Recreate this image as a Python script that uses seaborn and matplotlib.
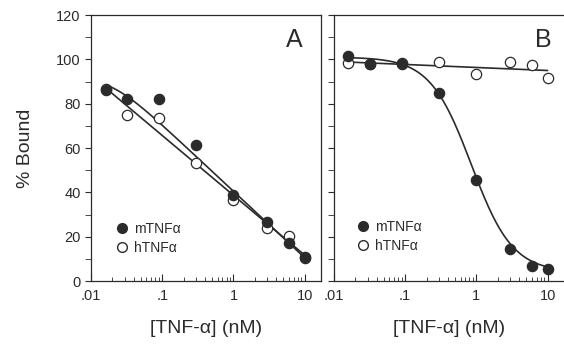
import numpy as np
import pandas as pd
import seaborn as sns
import matplotlib.pyplot as plt
from matplotlib.lines import Line2D
from matplotlib.ticker import MultipleLocator, LogLocator, NullFormatter

sns.set_style("ticks")
plt.rcParams['font.family'] = ['Liberation Sans', 'DejaVu Sans']

# concentrations (nM)
conc = [0.016, 0.032, 0.09, 0.3, 1.0, 3.0, 6.0, 10.0]

# panel A, % bound
a_mtnf = [86.2, 82.2, 82.0, 61.3, 38.8, 26.6, 17.3, 11.0]
a_htnf = [86.6, 74.7, 73.7, 53.4, 36.4, 24.0, 20.3, 10.5]

# panel B, % bound
b_mtnf = [101.6, 98.0, 97.9, 84.7, 45.4, 14.6, 6.9, 5.4]
b_htnf = [98.2, 98.0, 98.2, 98.8, 93.2, 98.8, 97.3, 91.7]

# fitted curve for mTNF in panel A: plateau then log-linear decline
# (plateau, slope per decade, break point nM, sharpness)
a_fit = [92.0, 30.0, 0.0192, 2.0]
# 4-parameter logistic for the mTNF curve in panel B (top, bottom, IC50, hill)
b_fit = [101.0, 4.0, 0.85, 1.5]

xticks = [0.01, 0.1, 1, 10]
xticklabels = ['.01', '.1', '1', '10']
ink = '#2b2b2b'


def logistic(x, top, bottom, ic50, hill):
    return bottom + (top - bottom) / (1 + (x / ic50) ** hill)


def plateau_log(x, top, slope, x0, sharp):
    return top - slope / sharp * np.log10(1 + (x / x0) ** sharp)


def polyline(x, y, deg, grid):
    p = np.polyfit(np.log10(x), y, deg)
    return np.polyval(p, np.log10(grid))


grid = np.logspace(np.log10(conc[0]), np.log10(conc[-1]), 200)

fig = plt.figure(figsize=(5.64, 3.45), dpi=100)
axA = fig.add_axes([0.1613, 0.1855, 0.408, 0.771])
axB = fig.add_axes([0.592, 0.1855, 0.408, 0.771])

curves = {
    axA: [plateau_log(grid, *a_fit), polyline(conc, a_htnf, 1, grid)],
    axB: [logistic(grid, *b_fit), polyline(conc, b_htnf, 1, grid)],
}
points = {axA: (a_mtnf, a_htnf), axB: (b_mtnf, b_htnf)}
letter_pos = {axA: 0.92, axB: 0.948}
legend_pos = {axA: (0.104, 0.221), axB: (0.096, 0.229)}

for ax, letter in [(axA, 'A'), (axB, 'B')]:
    for yc in curves[ax]:
        sns.lineplot(x=grid, y=yc, ax=ax, color=ink, lw=1.2, zorder=2)
    m, h = points[ax]
    sns.scatterplot(x=conc, y=h, ax=ax, s=55, color='white', edgecolor=ink,
                    linewidth=0.9, zorder=3)
    sns.scatterplot(x=conc, y=m, ax=ax, s=55, color=ink, edgecolor=ink,
                    linewidth=0.9, zorder=4)
    ax.set_xscale('log')
    ax.set_xlim(0.01, 17)
    ax.set_ylim(0, 120)
    ax.set_xticks(xticks)
    ax.set_xticklabels(xticklabels)
    ax.xaxis.set_minor_locator(LogLocator(base=10, subs=np.arange(2, 10)))
    ax.xaxis.set_minor_formatter(NullFormatter())
    ax.yaxis.set_major_locator(MultipleLocator(20))
    ax.yaxis.set_minor_locator(MultipleLocator(10))
    ax.tick_params(axis='x', which='both', direction='in', labelsize=10.5,
                   color=ink, labelcolor=ink, pad=6)
    ax.tick_params(axis='x', which='major', length=5)
    ax.tick_params(axis='x', which='minor', length=3)
    ax.tick_params(axis='y', which='both', direction='out', labelsize=10.5,
                   color=ink, labelcolor=ink, length=4)
    for s in ax.spines.values():
        s.set_color(ink)
        s.set_linewidth(0.9)
    ax.set_xlabel('[TNF-α] (nM)', fontsize=14, color=ink, labelpad=12)
    ax.text(letter_pos[ax], 0.905, letter, transform=ax.transAxes,
            fontsize=18, ha='right', va='center', color=ink)
    handles = [
        Line2D([], [], ls='none', marker='o', ms=7, color=ink, mec=ink),
        Line2D([], [], ls='none', marker='o', ms=7, mfc='white', mec=ink),
    ]
    ax.legend(handles, ['mTNFα', 'hTNFα'], loc='upper left',
              bbox_to_anchor=legend_pos[ax], borderpad=0, borderaxespad=0,
              frameon=False, fontsize=10, handletextpad=0.4,
              labelspacing=0.35, handlelength=1.0, labelcolor=ink)

axA.set_ylabel('% Bound', fontsize=14, color=ink, labelpad=16)
axB.set_yticklabels([])
axB.set_ylabel('')
axB.spines['right'].set_visible(False)

fig.savefig('out.png', dpi=100, facecolor='white')
